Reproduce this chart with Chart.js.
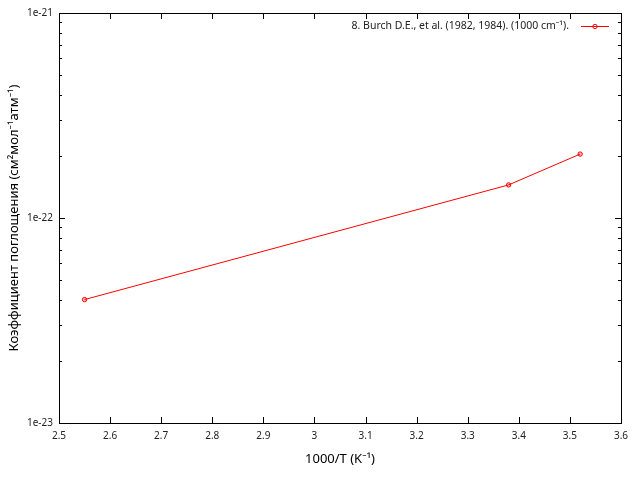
<!DOCTYPE html>
<html>
<head>
<meta charset="utf-8">
<script src="https://cdn.jsdelivr.net/npm/chart.js@4/dist/chart.umd.min.js"></script>
<style>
  html, body { margin: 0; padding: 0; background: #fff; }
</style>
</head>
<body>
<canvas id="graph" width="640" height="480"></canvas>
<script>
// ==== Data ====
var seriesLabel = '8. Burch D.E., et al. (1982, 1984). (1000 cm\u207B\u00B9).'
var xValues = [2.55, 3.38, 3.52]
var yValues = [4.0e-23, 1.45e-22, 2.05e-22]
var xTicks = [2.5, 2.6, 2.7, 2.8, 2.9, 3.0, 3.1, 3.2, 3.3, 3.4, 3.5, 3.6]
var yTicks = [1e-23, 1e-22, 1e-21]
var yMinorSteps = [2, 3, 4, 5, 6, 7, 8, 9]
var xTitle = '1000/T (K\u207B\u00B9)'
var yTitle = 'Коэффициент поглощения (см\u00B2мол\u207B\u00B9атм\u207B\u00B9)'

var lineColor = '#ff0000'
var font = 'Noto Sans'

var points = []
for (var i in xValues) {
    points.push({ x: xValues[i], y: yValues[i] })
}

// ==== gnuplot-like frame, inward ticks and legend ====
var framePlugin = {
    id: 'frame',
    afterDatasetsDraw: function(chart) {
        var ctx = chart.ctx
        var a = chart.chartArea
        var xs = chart.scales.x
        var ys = chart.scales.y
        ctx.save()
        ctx.strokeStyle = '#000'
        ctx.lineWidth = 1
        ctx.strokeRect(Math.round(a.left) + 0.5, Math.round(a.top) + 0.5,
                       Math.round(a.right - a.left), Math.round(a.bottom - a.top))
        ctx.beginPath()
        // x ticks, bottom and top
        xTicks.forEach(function(v) {
            var px = Math.round(xs.getPixelForValue(v)) + 0.5
            ctx.moveTo(px, a.bottom); ctx.lineTo(px, a.bottom - 6)
            ctx.moveTo(px, a.top); ctx.lineTo(px, a.top + 6)
        })
        // y major and minor ticks, left and right
        yTicks.forEach(function(v, k) {
            var py = Math.round(ys.getPixelForValue(v)) + 0.5
            ctx.moveTo(a.left, py); ctx.lineTo(a.left + 6, py)
            ctx.moveTo(a.right, py); ctx.lineTo(a.right - 6, py)
            if (k < yTicks.length - 1) {
                yMinorSteps.forEach(function(m) {
                    var pm = Math.round(ys.getPixelForValue(v * m)) + 0.5
                    ctx.moveTo(a.left, pm); ctx.lineTo(a.left + 3, pm)
                    ctx.moveTo(a.right, pm); ctx.lineTo(a.right - 3, pm)
                })
            }
        })
        ctx.stroke()

        // legend (key) in the top right corner
        var ky = 26
        ctx.font = '10.5px "' + font + '"'
        ctx.fillStyle = '#222'
        ctx.textAlign = 'right'
        ctx.textBaseline = 'middle'
        ctx.fillText(seriesLabel, 569, ky)
        ctx.strokeStyle = lineColor
        ctx.beginPath()
        ctx.moveTo(581, ky + 0.5); ctx.lineTo(609, ky + 0.5)
        ctx.stroke()
        ctx.beginPath()
        ctx.arc(595, ky + 0.5, 2.2, 0, Math.PI * 2)
        ctx.stroke()
        ctx.restore()
    }
}

var config = {
    type: 'line',
    data: {
        datasets: [{
            label: seriesLabel,
            data: points,
            borderColor: lineColor,
            borderWidth: 1,
            tension: 0,
            fill: false,
            pointRadius: 2.2,
            pointBorderWidth: 1,
            pointBorderColor: lineColor,
            pointBackgroundColor: 'rgba(255,0,0,0.25)',
        }],
    },
    options: {
        responsive: false,
        animation: false,
        layout: {
            padding: { top: 13, right: 19, bottom: 0, left: 0 },
        },
        plugins: {
            legend: false, // drawn by framePlugin
            tooltip: { enabled: false },
        },
        scales: {
            x: {
                type: 'linear',
                min: 2.5,
                max: 3.6,
                afterBuildTicks: function(scale) {
                    scale.ticks = xTicks.map(function(v) { return { value: v } })
                },
                afterFit: function(scale) { scale.height = 57 },
                grid: { display: true, drawOnChartArea: false, drawTicks: false, color: 'transparent' },
                border: { display: false },
                ticks: {
                    autoSkip: false,
                    maxRotation: 0,
                    padding: 7,
                    color: '#222',
                    font: { family: font, size: 10 },
                    callback: function(v) { return parseFloat(v.toFixed(1)).toString() },
                },
                title: {
                    display: true,
                    text: xTitle,
                    color: '#000',
                    font: { family: font, size: 13 },
                    padding: { top: 0, bottom: 13 },
                },
            },
            y: {
                type: 'logarithmic',
                min: 1e-23,
                max: 1e-21,
                afterBuildTicks: function(scale) {
                    scale.ticks = yTicks.map(function(v) { return { value: v } })
                },
                afterFit: function(scale) { scale.width = 59 },
                grid: { display: true, drawOnChartArea: false, drawTicks: false, color: 'transparent' },
                border: { display: false },
                ticks: {
                    autoSkip: false,
                    padding: 6,
                    color: '#222',
                    font: { family: font, size: 10 },
                    callback: function(v) { return Number(v).toExponential(0) },
                },
                title: {
                    display: true,
                    text: yTitle,
                    color: '#000',
                    font: { family: font, size: 13 },
                    padding: { top: 6, bottom: 0 },
                },
            },
        },
    },
    plugins: [framePlugin],
}

var ctx = document.getElementById('graph').getContext('2d')
new Chart(ctx, config)
</script>
</body>
</html>
